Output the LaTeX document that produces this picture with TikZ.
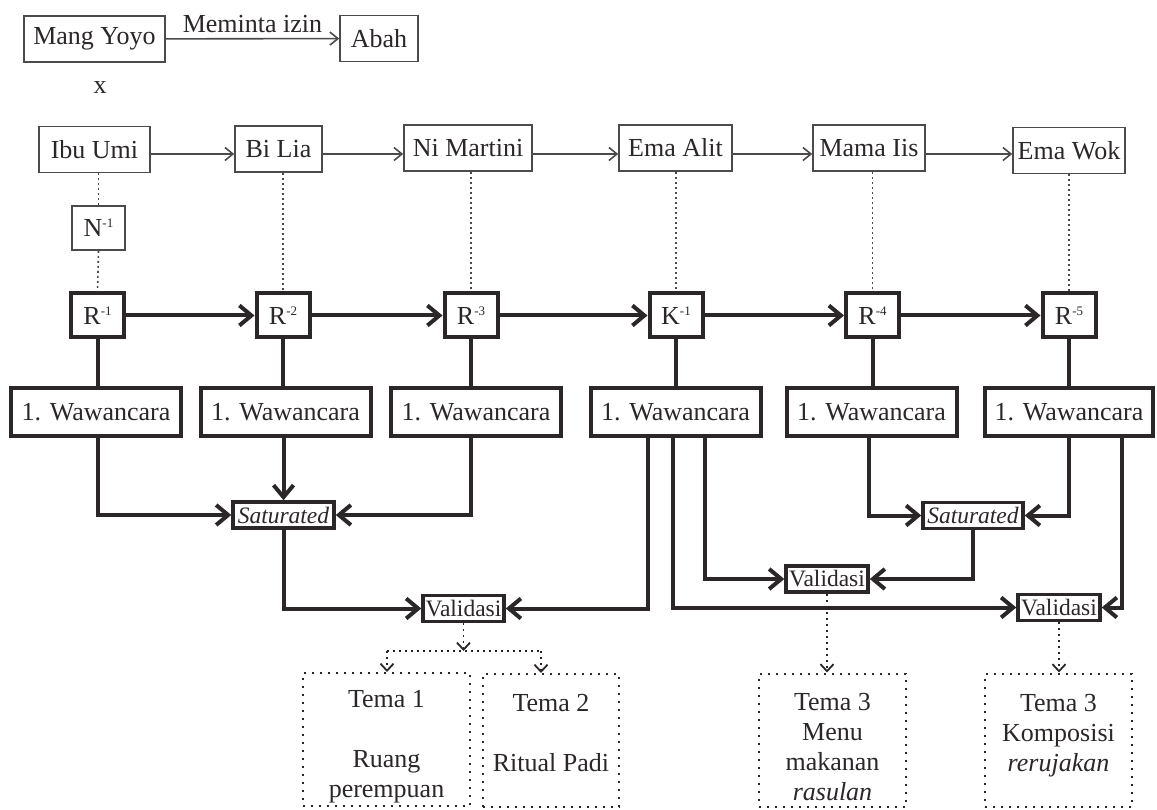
\documentclass[tikz,border=0pt]{standalone}
\usepackage{fontspec}
\setmainfont{Liberation Serif}
\usetikzlibrary{arrows.meta}
\definecolor{ink}{HTML}{2B2728}
\definecolor{thinc}{HTML}{4D4A4B}
\newcommand{\supx}[1]{\raisebox{9pt}{\fontsize{13}{13}\selectfont #1}}
\newcommand{\tstrut}{\rule{0pt}{32pt}}
\begin{document}
\begin{tikzpicture}[x=1pt,y=-1pt,
  every node/.style={text=ink, font=\fontsize{26}{30}\selectfont, inner sep=0pt},
  tbox/.style={draw=thinc, line width=1.6pt, minimum height=46pt},
  rbox/.style={draw=ink, line width=4pt, minimum width=53pt, minimum height=44pt},
  wbox/.style={draw=ink, line width=4pt, minimum width=170pt, minimum height=48pt},
  sbox/.style={draw=ink, line width=3.5pt, minimum height=26pt, font=\fontsize{23.5}{28}\selectfont},
  tema/.style={draw=ink, line width=2pt, dash pattern=on 2pt off 6pt, align=center, minimum height=133pt},
  tarrow/.style={draw=thinc, line width=1.6pt, -{Straight Barb[length=8pt,width=13pt]}},
  karrow/.style={draw=ink, line width=4pt, -{Straight Barb[length=12pt,width=20pt]}},
  kline/.style={draw=ink, line width=4pt},
  dline/.style={draw=thinc, line width=1.6pt, dash pattern=on 2pt off 3pt},
  darrow/.style={draw=ink, line width=1.8pt, dash pattern=on 2pt off 4pt, -{Straight Barb[length=7pt,width=13pt,line width=1.8pt]}},
]
\fill[white] (0,0) rectangle (1157,810);
\useasboundingbox (0,0) rectangle (1157,810);

% top
\node[tbox, minimum width=141pt] (my) at (94.5,39) {Mang Yoyo};
\node[tbox, minimum width=78pt] (ab) at (379,38.5) {Abah};
\draw[tarrow] (my) -- node[above=5pt] (mi) {Meminta izin} (ab);
\node (xx) at (100,88) {x};

% informants
\coordinate (ay) at (0,154);
\node[tbox, minimum width=111pt] (ibu) at (94.5,149.5) {Ibu Umi};
\node[tbox, minimum width=87pt] (bil) at (278.5,149) {Bi Lia};
\node[tbox, minimum width=128pt] (nim) at (468,148) {Ni Martini};
\node[tbox, minimum width=113pt] (ema) at (675.5,148) {Ema Alit};
\node[tbox, minimum width=112pt] (mam) at (869,148) {Mama Iis};
\node[tbox, minimum width=112pt] (wok) at (1069,150.5) {Ema Wok};
\draw[tarrow] (ibu.east |- ay) -- (bil.west |- ay);
\draw[tarrow] (bil.east |- ay) -- (nim.west |- ay);
\draw[tarrow] (nim.east |- ay) -- (ema.west |- ay);
\draw[tarrow] (ema.east |- ay) -- (mam.west |- ay);
\draw[tarrow] (mam.east |- ay) -- (wok.west |- ay);

% N and R row
\node[tbox, minimum width=53pt, minimum height=44pt] (n1) at (98.5,228) {N\supx{-1}};
\node[rbox] (r1) at (97.5,315.5) {R\supx{-1}};
\node[rbox] (r2) at (283,315.5) {R\supx{-2}};
\node[rbox] (r3) at (471,315.5) {R\supx{-3}};
\node[rbox] (k1) at (676,315.5) {K\supx{-1}};
\node[rbox] (r4) at (872.5,315.5) {R\supx{-4}};
\node[rbox] (r5) at (1069,315.5) {R\supx{-5}};
\draw[karrow] (r1) -- (r2);
\draw[karrow] (r2) -- (r3);
\draw[karrow] (r3) -- (k1);
\draw[karrow] (k1) -- (r4);
\draw[karrow] (r4) -- (r5);

% dotted links
\draw[dline] (ibu.south -| n1) -- (n1.north);
\draw[dline] (n1.south) -- (r1.north);
\draw[dline] (bil.south -| r2) -- (r2.north);
\draw[dline] (nim.south -| r3) -- (r3.north);
\draw[dline] (ema.south -| k1) -- (k1.north);
\draw[dline] (mam.south -| r4) -- (r4.north);
\draw[dline] (wok.south -| r5) -- (r5.north);

% wawancara
\node[wbox] (w1) at (96,412) {1. Wawancara};
\node[wbox] (w2) at (285.5,412) {1. Wawancara};
\node[wbox] (w3) at (476,412) {1. Wawancara};
\node[wbox] (w4) at (675.5,412) {1. Wawancara};
\node[wbox] (w5) at (871.5,412) {1. Wawancara};
\node[wbox, minimum width=168pt] (w6) at (1069,412) {1. Wawancara};
\draw[kline] (r1.south) -- (r1.south |- w1.north);
\draw[kline] (r2.south) -- (r2.south |- w2.north);
\draw[kline] (r3.south) -- (r3.south |- w3.north);
\draw[kline] (k1.south) -- (k1.south |- w4.north);
\draw[kline] (r4.south) -- (r4.south |- w5.north);
\draw[kline] (r5.south) -- (r5.south |- w6.north);

% saturated & validasi
\node[sbox, minimum width=101pt] (s1) at (283.5,515) {\textit{Saturated}};
\node[sbox, minimum width=100pt] (s2) at (973,515.5) {\textit{Saturated}};
\node[sbox, minimum width=81pt] (v1) at (463.5,608.5) {Validasi};
\node[sbox, minimum width=82pt] (v2) at (827,579) {Validasi};
\node[sbox, minimum width=82pt] (v3) at (1059,607.5) {Validasi};

\draw[karrow] (r1 |- w1.south) |- (s1.west);
\draw[karrow] (s1 |- w2.south) -- (s1.north);
\draw[karrow] (r3 |- w3.south) |- (s1.east);
\draw[karrow] (s1.south) |- (v1.west);
\draw[karrow] ([xshift=-27.5pt]w4.south) |- (v1.east);
\draw[karrow] ([xshift=-2.5pt]w4.south) |- (v3.west);
\draw[karrow] ([xshift=29.5pt]w4.south) |- (v2.west);
\draw[karrow] ([xshift=-2.5pt]w5.south) |- (s2.west);
\draw[karrow] (r5 |- w6.south) |- (s2.east);
\draw[karrow] (s2.south) |- (v2.east);
\draw[karrow] ([xshift=52.5pt]w6.south) |- (v3.east);

% temas
\node[tema, minimum width=167pt] (t1) at (386.5,739.5) {\tstrut Tema 1\\\mbox{}\\Ruang\\perempuan};
\node[tema, minimum width=136pt] (t2) at (551,740.5) {\tstrut Tema 2\\\mbox{}\\Ritual Padi\\\mbox{}};
\node[tema, minimum width=147pt] (t3) at (832.5,740) {\tstrut Tema 3\\Menu\\makanan\\\textit{rasulan}};
\node[tema, minimum width=147pt] (t4) at (1058.5,740) {\tstrut Tema 3\\Komposisi\\\textit{rerujakan}\\\mbox{}};

\coordinate (jy) at (0,651);
\coordinate (jl) at (387,651);
\coordinate (jr) at (541,651);
\draw[darrow] (v1.south) -- (v1.south |- jy);
\draw[draw=ink, line width=1.8pt, dash pattern=on 2pt off 4pt] (jl) -- (jr);
\draw[darrow] (jl) -- (jl |- t1.north);
\draw[darrow] (jr) -- (jr |- t2.north);
\draw[darrow] (v2.south) -- (v2.south |- t3.north);
\draw[darrow] (v3.south) -- (v3.south |- t4.north);
\end{tikzpicture}
\end{document}
